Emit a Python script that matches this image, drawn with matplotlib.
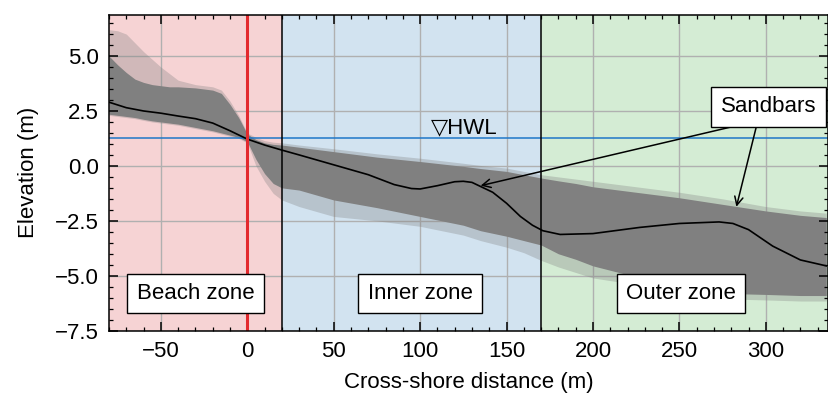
import matplotlib
matplotlib.use("Agg")
import matplotlib.pyplot as plt

plt.rcParams['font.family'] = ['Liberation Sans', 'DejaVu Sans']
plt.rcParams['font.size'] = 16

# ---------------- data ----------------
# cross-shore positions of the profile envelope
x_env = [-80, -75, -70, -65, -60, -55, -50, -45, -40, -30, -20, -15, -10, -5, 0,
         5, 10, 15, 20, 30, 50, 75, 100, 125, 135, 150, 160, 170, 180, 190, 200,
         225, 250, 275, 300, 320, 335]
# dense part of the profile ensemble
upper_dense = [5.0, 4.6, 4.25, 3.95, 3.8, 3.7, 3.65, 3.6, 3.6, 3.55, 3.45, 3.3, 2.8, 2.2, 1.45,
               1.2, 1.05, 0.98, 0.95, 0.85, 0.65, 0.4, 0.2, -0.02, -0.12, -0.25, -0.4, -0.55, -0.68, -0.8, -0.95,
               -1.2, -1.45, -1.75, -2.05, -2.25, -2.35]
lower_dense = [2.35, 2.3, 2.25, 2.2, 2.12, 2.05, 2.0, 1.95, 1.9, 1.75, 1.6, 1.5, 1.4, 1.3, 1.1,
               0.3, -0.35, -0.8, -1.0, -1.1, -1.55, -1.9, -2.3, -2.7, -2.95, -3.2, -3.4, -3.6, -4.0, -4.25, -4.55,
               -5.05, -5.6, -5.8, -5.85, -5.9, -5.9]
# outer (sparse) extent of the ensemble
upper_max = [6.2, 6.15, 6.0, 5.6, 5.2, 4.85, 4.5, 4.2, 3.9, 3.7, 3.6, 3.45, 2.95, 2.3, 1.5,
             1.3, 1.15, 1.08, 1.05, 0.95, 0.78, 0.55, 0.35, 0.12, 0.02, -0.1, -0.25, -0.4, -0.5, -0.6, -0.7,
             -0.95, -1.2, -1.5, -1.85, -2.05, -2.15]
lower_max = [2.3, 2.25, 2.2, 2.15, 2.07, 2.0, 1.95, 1.9, 1.85, 1.7, 1.55, 1.45, 1.35, 1.25, 1.05,
             0.0, -0.7, -1.25, -1.55, -1.85, -2.3, -2.5, -2.75, -3.15, -3.4, -3.7, -3.95, -4.3, -4.6, -4.85, -5.1,
             -5.4, -5.9, -6.05, -6.1, -6.15, -6.15]

# mean profile
x_mean = [-80, -70, -60, -50, -40, -30, -20, -10, 0, 10, 20, 30, 50, 70, 85, 95, 100, 110, 120,
          125, 130, 142, 150, 158, 165, 171, 181, 200, 227, 250, 273, 281, 290, 304, 320, 335]
z_mean = [2.9, 2.65, 2.5, 2.4, 2.27, 2.15, 1.95, 1.6, 1.22, 0.95, 0.72, 0.5, 0.05, -0.4, -0.85, -1.03, -1.05, -0.9, -0.72,
          -0.7, -0.75, -1.2, -1.7, -2.3, -2.7, -2.95, -3.12, -3.08, -2.8, -2.62, -2.55, -2.62, -2.9, -3.65, -4.28, -4.55]

hwl = 1.25
shoreline_x = 0
zone_edges = [-80, 20, 170, 336]
zone_names = ["Beach zone", "Inner zone", "Outer zone"]
zone_label_x = [-30, 100, 251]
zone_label_y = -5.8
zone_colors = ["tab:red", "tab:blue", "tab:green"]

sandbar_label = (301.6, 2.69)
sandbar_starts = [(282, 1.81), (294.6, 1.81)]
sandbar_tips = [(135, -0.9), (283, -1.86)]

xticks = [-50, 0, 50, 100, 150, 200, 250, 300]
yticks = [-7.5, -5.0, -2.5, 0.0, 2.5, 5.0]

# ---------------- plot ----------------
fig = plt.figure(figsize=(8.29, 3.94), dpi=100)
ax = fig.add_axes([0.1315, 0.1607, 0.8673, 0.8013])

for i in range(3):
    ax.axvspan(zone_edges[i], zone_edges[i + 1], color=zone_colors[i], alpha=0.2, lw=0, zorder=0)

for t in xticks:
    ax.axvline(t, color='#b0b0b0', lw=1.0, zorder=0.5)
for t in yticks:
    ax.axhline(t, color='#b0b0b0', lw=1.0, zorder=0.5)

ax.fill_between(x_env, lower_max, upper_max, color='gray', alpha=0.32, lw=0, zorder=1)
ax.fill_between(x_env, lower_dense, upper_dense, color='gray', lw=0, zorder=1.1)

ax.axhline(hwl, color='#1f77c8', lw=1.1, zorder=2)
ax.plot(x_mean, z_mean, color='black', lw=1.2, zorder=3)
ax.axvline(shoreline_x, color='#e32a2e', lw=2.2, zorder=3)
for e in zone_edges[1:3]:
    ax.axvline(e, color='black', lw=1.1, zorder=3)

ax.text(106, hwl, "▽HWL", ha='left', va='bottom', zorder=4)

box = dict(boxstyle='square,pad=0.42', fc='white', ec='black', lw=1.0)
for name, xl in zip(zone_names, zone_label_x):
    ax.text(xl, zone_label_y, name, ha='center', va='center', zorder=5, bbox=box)

ax.text(sandbar_label[0], sandbar_label[1], "Sandbars", ha='center', va='center', zorder=5, bbox=box)
for s, tip in zip(sandbar_starts, sandbar_tips):
    ax.annotate("", xy=tip, xytext=s, zorder=4,
                arrowprops=dict(arrowstyle='->', color='black', lw=1.1,
                                shrinkA=0, shrinkB=0, mutation_scale=15))

ax.set_xlim(-80, 336)
ax.set_ylim(-7.5, 6.87)
ax.set_xticks(xticks)
ax.set_yticks(yticks)
ax.set_yticklabels([f"{v:.1f}".replace('-', '\u2212') for v in yticks])
ax.set_xticks(range(-80, 336, 10), minor=True)
ax.set_yticks([v / 2 for v in range(-15, 14)], minor=True)
ax.tick_params(which='both', direction='in', top=True, right=True, pad=7.5)
ax.tick_params(which='major', length=6.5, width=1.1)
ax.tick_params(which='minor', length=3.2, width=0.9)
for sp in ax.spines.values():
    sp.set_linewidth(1.1)
    sp.set_zorder(6)

ax.set_xlabel("Cross-shore distance (m)", labelpad=7)
ax.set_ylabel("Elevation (m)", labelpad=11)

fig.savefig("out.png", dpi=100)
